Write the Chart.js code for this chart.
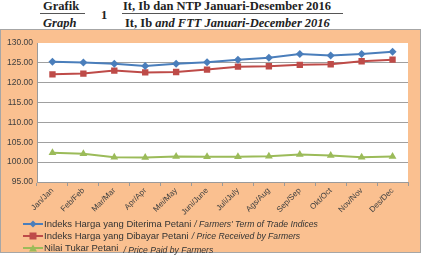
<!DOCTYPE html>
<html>
<head>
<meta charset="utf-8">
<script src="https://cdn.jsdelivr.net/npm/chart.js@4.4.0/dist/chart.umd.min.js"></script>
<style>
  body { margin: 0; background: #fff; width: 425px; height: 256px; position: relative; overflow: hidden; }
  .judul { position: absolute; font-family: "Liberation Serif", serif; font-weight: bold; font-size: 12.5px; line-height: 13px; color: #222; white-space: nowrap; }
  .garis { position: absolute; height: 1px; background: #555; }
  #kotak { position: absolute; left: 0; top: 29px; width: 421px; height: 224px; background: #fac090; border: 1px solid #a6a6a6; box-sizing: border-box; }
  #grafik { position: absolute; left: 0; top: 29px; }
  .legenda { position: absolute; left: 23px; font-family: "Liberation Sans", sans-serif; font-size: 9.5px; color: #333; white-space: nowrap; display: flex; align-items: center; }
  .legenda svg { margin-right: 1px; }
  .legenda i { margin-left: 3px; font-size: 8.6px; }
</style>
</head>
<body>
<!-- Judul grafik -->
<div class="judul" style="left:43px;top:0px;">Grafik</div>
<div class="garis" style="left:40px;top:13px;width:45px;"></div>
<div class="judul" style="left:43px;top:17px;"><i>Graph</i></div>
<div class="judul" style="left:101px;top:9px;">1</div>
<div class="judul" style="left:123px;top:0px;">It, Ib dan NTP Januari-Desember 2016</div>
<div class="garis" style="left:122px;top:13px;width:221px;"></div>
<div class="judul" style="left:125px;top:17px;">It, Ib <i>and FTT Januari-December 2016</i></div>

<div id="kotak"></div>
<canvas id="grafik" width="421" height="190"></canvas>

<!-- Legenda manual (teks campuran normal/miring) -->
<div class="legenda" style="top:218px;">
  <svg width="20" height="8"><line x1="0" y1="4" x2="20" y2="4" stroke="#4a7ebb" stroke-width="2"/><polygon points="10,0.5 13.5,4 10,7.5 6.5,4" fill="#4a7ebb"/></svg>
  Indeks Harga yang Diterima Petani <i>/ Farmers' Term of Trade Indices</i>
</div>
<div class="legenda" style="top:230px;">
  <svg width="20" height="8"><line x1="0" y1="4" x2="20" y2="4" stroke="#be4b48" stroke-width="2"/><rect x="6.5" y="0.5" width="7" height="7" fill="#be4b48"/></svg>
  Indeks Harga yang Dibayar Petani <i>/ Price Received by Farmers</i>
</div>
<div class="legenda" style="top:242px;">
  <svg width="20" height="8"><line x1="0" y1="4" x2="20" y2="4" stroke="#9bbb59" stroke-width="2"/><polygon points="10,0.5 14,7.5 6,7.5" fill="#9bbb59"/></svg>
  Nilai Tukar Petani <i style="margin-left:5px;position:relative;top:2px;">/ Price Paid by Farmers</i>
</div>

<script>
// Data grafik
const bulan = ["Jan/Jan", "Feb/Feb", "Mar/Mar", "Apr/Apr", "Mei/May", "Juni/June",
  "Juli/July", "Ags/Aug", "Sep/Sep", "Okt/Oct", "Nov/Nov", "Des/Dec"];
const indeksDiterima = [125.25, 125.1, 124.8, 124.2, 124.75, 125.15, 125.8, 126.3, 127.2, 126.85, 127.2, 127.8];
const indeksDibayar = [122.1, 122.3, 123.05, 122.6, 122.7, 123.3, 124.05, 124.15, 124.5, 124.65, 125.4, 125.8];
const nilaiTukar = [102.35, 102.1, 101.25, 101.2, 101.4, 101.35, 101.35, 101.5, 101.9, 101.7, 101.25, 101.4];
const sumbuY = { min: 95, max: 130, step: 5 };

// Latar putih area plot
const latarPlot = {
  id: "latarPlot",
  beforeDraw(chart) {
    const a = chart.chartArea;
    const ctx = chart.ctx;
    ctx.save();
    ctx.fillStyle = "#ffffff";
    ctx.fillRect(a.left, a.top, a.right - a.left, a.bottom - a.top);
    ctx.restore();
  },
};

function buatSeri(label, data, warna, bentuk, radius) {
  return {
    label: label,
    data: data,
    borderColor: warna,
    backgroundColor: warna,
    borderWidth: 2,
    pointStyle: bentuk,
    pointRadius: radius,
    pointBorderWidth: 0,
    pointBackgroundColor: warna,
    tension: 0,
  };
}

new Chart(document.getElementById("grafik"), {
  type: "line",
  data: {
    labels: bulan,
    datasets: [
      buatSeri("Indeks Harga yang Diterima Petani", indeksDiterima, "#4a7ebb", "rectRot", 4),
      buatSeri("Indeks Harga yang Dibayar Petani", indeksDibayar, "#be4b48", "rect", 4.5),
      buatSeri("Nilai Tukar Petani", nilaiTukar, "#9bbb59", "triangle", 4.5),
    ],
  },
  options: {
    responsive: false,
    animation: false,
    devicePixelRatio: 1,
    layout: { padding: { left: 0, top: 14, right: 13, bottom: 0 } },
    plugins: { legend: { display: false }, tooltip: { enabled: false } },
    scales: {
      x: {
        offset: true,
        grid: { offset: true, drawOnChartArea: false, color: "#9a9a9a", tickLength: 4 },
        border: { color: "#9a9a9a" },
        ticks: {
          minRotation: 45,
          maxRotation: 45,
          autoSkip: false,
          padding: 0,
          color: "#404040",
          font: { family: "Liberation Sans", size: 8 },
        },
        afterFit(scale) { scale.height = 37; },
      },
      y: {
        min: sumbuY.min,
        max: sumbuY.max,
        grid: {
          color: (c) => (c.tick && c.tick.value === sumbuY.max ? "rgba(0,0,0,0)" : "#a0a0a0"),
          drawTicks: false,
        },
        border: { color: "#9a9a9a" },
        ticks: {
          stepSize: sumbuY.step,
          padding: 4,
          color: "#404040",
          font: { family: "Liberation Sans", size: 8.5 },
          callback: (v) => v.toFixed(2),
        },
        afterFit(scale) { scale.width = 37; },
      },
    },
  },
  plugins: [latarPlot],
});
</script>
</body>
</html>
